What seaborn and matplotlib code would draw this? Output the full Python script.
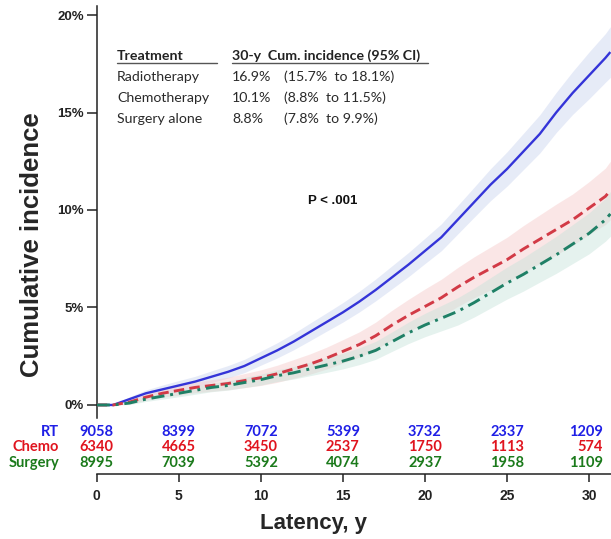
import numpy as np
import pandas as pd
import matplotlib
matplotlib.use("Agg")
import matplotlib.pyplot as plt
import seaborn as sns

# ---------------- data ----------------
years = [0, 1, 2, 3, 4, 5, 6, 7, 8, 9, 10, 11, 12, 13, 14, 15, 16, 17, 18, 19,
         20, 21, 22, 23, 24, 25, 26, 27, 28, 29, 30, 31, 31.3]
rt_inc = [0, 0.0, 0.3, 0.6, 0.8, 1.0, 1.2, 1.45, 1.7, 2.0, 2.4, 2.8, 3.25, 3.75, 4.25,
          4.75, 5.3, 5.9, 6.55, 7.2, 7.9, 8.6, 9.5, 10.4, 11.3, 12.1, 13.0, 13.9, 15.0,
          16.0, 16.9, 17.8, 18.1]
chemo_inc = [0, 0.0, 0.15, 0.4, 0.6, 0.75, 0.9, 1.0, 1.1, 1.25, 1.4, 1.6, 1.85, 2.1,
             2.4, 2.75, 3.1, 3.55, 4.1, 4.6, 5.05, 5.5, 6.05, 6.55, 7.0, 7.45, 8.0, 8.5,
             9.0, 9.5, 10.1, 10.7, 11.0]
surg_inc = [0, 0.0, 0.1, 0.3, 0.45, 0.6, 0.75, 0.9, 1.0, 1.15, 1.3, 1.5, 1.65, 1.85,
            2.05, 2.25, 2.5, 2.8, 3.25, 3.7, 4.1, 4.45, 4.8, 5.25, 5.75, 6.25, 6.7, 7.2,
            7.7, 8.25, 8.8, 9.5, 9.8]
# half-widths of the 95% CI bands
rt_ci = [0, 0, 0.12, 0.17, 0.22, 0.25, 0.27, 0.3, 0.32, 0.34, 0.36, 0.39, 0.42, 0.45,
         0.47, 0.5, 0.53, 0.56, 0.59, 0.62, 0.65, 0.69, 0.73, 0.77, 0.82, 0.88, 0.93,
         0.98, 1.03, 1.1, 1.2, 1.25, 1.3]
chemo_ci = [0, 0, 0.1, 0.16, 0.2, 0.25, 0.27, 0.3, 0.32, 0.36, 0.4, 0.44, 0.48, 0.52,
            0.56, 0.6, 0.65, 0.7, 0.76, 0.82, 0.9, 0.95, 1.0, 1.05, 1.1, 1.15, 1.2,
            1.25, 1.3, 1.32, 1.35, 1.45, 1.5]
surg_ci = [0, 0, 0.08, 0.12, 0.15, 0.18, 0.2, 0.22, 0.24, 0.26, 0.28, 0.3, 0.32, 0.35,
           0.38, 0.4, 0.43, 0.46, 0.5, 0.55, 0.6, 0.65, 0.7, 0.74, 0.78, 0.82, 0.86,
           0.9, 0.95, 1.0, 1.05, 1.1, 1.15]

groups = ["RT", "Chemo", "Surgery"]
risk_times = [0, 5, 10, 15, 20, 25, 30]
risk_rt = [9058, 8399, 7072, 5399, 3732, 2337, 1209]
risk_chemo = [6340, 4665, 3450, 2537, 1750, 1113, 574]
risk_surg = [8995, 7039, 5392, 4074, 2937, 1958, 1109]

table_treat = ["Radiotherapy", "Chemotherapy", "Surgery alone"]
table_est = ["16.9%", "10.1%", "8.8%"]
table_ci = ["(15.7%  to 18.1%)", "(8.8%  to 11.5%)", "(7.8%  to 9.9%)"]

yticks = [0, 5, 10, 15, 20]
xticks = [0, 5, 10, 15, 20, 25, 30]

# ---------------- style ----------------
sns.set_style("ticks")
plt.rcParams['font.family'] = ['Liberation Sans', 'DejaVu Sans']

line_col = {"RT": "#3434d8", "Chemo": "#d23a46", "Surgery": "#1f8066"}
band_col = {"RT": "#c9d3ef", "Chemo": "#f6c9c9", "Surgery": "#c6e3da"}
text_col = {"RT": "#1f1fe6", "Chemo": "#e0141e", "Surgery": "#1b7a1b"}

W, H = 611, 539
fig = plt.figure(figsize=(W / 100, H / 100), dpi=100)
x0_px, x30_px = 96.7, 589.0
ax = fig.add_axes([x0_px / W, 65 / H, (W - x0_px) / W, 474 / H])

# long data frame
incs = {"RT": rt_inc, "Chemo": chemo_inc, "Surgery": surg_inc}
cis = {"RT": rt_ci, "Chemo": chemo_ci, "Surgery": surg_ci}
frames = []
for g in groups:
    frames.append(pd.DataFrame({"year": years, "inc": incs[g], "group": g}))
df = pd.concat(frames, ignore_index=True)

# CI bands
for g in groups:
    inc = np.array(incs[g])
    ci = np.array(cis[g])
    ax.fill_between(years, inc - ci, inc + ci, color=band_col[g], alpha=0.45,
                    lw=0, zorder=1)

sns.lineplot(data=df, x="year", y="inc", hue="group", style="group",
             palette=line_col,
             dashes={"RT": "", "Chemo": (3.6, 1.8), "Surgery": (4.5, 2, 1, 2)},
             estimator=None, sort=True, legend=False, ax=ax, zorder=3,
             linewidth=2.1)
for ln in ax.lines:
    ln.set_solid_capstyle("butt")
    ln.set_dash_capstyle("butt")
    ln.set_solid_joinstyle("round")
ax.lines[0].set_linewidth(1.7)

# axes limits and spines
ax.set_xlim(0, 31.34)
ax.set_ylim(-3.54, 20.77)
ax.spines["top"].set_visible(False)
ax.spines["right"].set_visible(False)
ax.spines["left"].set_bounds(-0.65, 20.45)
ax.spines["bottom"].set_bounds(0, 31.34)
for s in ("left", "bottom"):
    ax.spines[s].set_linewidth(1.1)
    ax.spines[s].set_color("#222222")

ax.set_yticks(yticks)
ax.set_yticklabels([f"{v}%" for v in yticks])
ax.set_xticks(xticks)
ax.set_xticklabels([str(v) for v in xticks])
ax.tick_params(axis="y", direction="out", length=7, width=1.1, pad=2,
               labelsize=9.5, color="#222222")
ax.tick_params(axis="x", direction="out", length=6, width=1.1, pad=4.5,
               labelsize=10, color="#222222")
for lab in ax.get_yticklabels() + ax.get_xticklabels():
    lab.set_fontweight("bold")
    lab.set_color("#222222")

ax.set_xlabel("Latency, y", fontsize=16, fontweight="bold")
ax.xaxis.set_label_coords((314 - x0_px) / (W - x0_px), -(523 - 474) / 474)
ax.xaxis.label.set_va("center")
ax.set_ylabel("Cumulative incidence", fontsize=18.5, fontweight="bold")
ax.yaxis.set_label_coords(-(x0_px - 32) / (W - x0_px), (474 - 245) / 474)
ax.yaxis.label.set_va("center")

# number-at-risk table
risk = {"RT": risk_rt, "Chemo": risk_chemo, "Surgery": risk_surg}
row_y = {"RT": -1.385, "Chemo": -2.154, "Surgery": -2.974}
lab_x = (59 - x0_px) / ((x30_px - x0_px) / 30)
last_x = (603 - x0_px) / ((x30_px - x0_px) / 30)
for g in groups:
    ax.text(lab_x, row_y[g], g, ha="right", va="center", color=text_col[g],
            fontsize=10.5, fontweight="bold", family=["Lato", "DejaVu Sans"],
            clip_on=False)
    for t, n in zip(risk_times, risk[g]):
        if t == risk_times[-1]:
            ax.text(last_x, row_y[g], str(n), ha="right", va="center",
                    color=text_col[g], fontsize=10.5, fontweight="bold",
                    family=["Lato", "DejaVu Sans"])
        else:
            ax.text(t, row_y[g], str(n), ha="center", va="center",
                    color=text_col[g], fontsize=10.5, fontweight="bold",
                    family=["Lato", "DejaVu Sans"])

# summary table
tfam = ["Lato", "DejaVu Sans"]
ax.text(1.24, 17.9, "Treatment", ha="left", va="center", fontsize=10.2,
        fontweight="bold", family=tfam, color="#222222")
ax.text(8.24, 17.9, "30-y  Cum. incidence (95% CI)", ha="left", va="center",
        fontsize=10.2, fontweight="bold", family=tfam, color="#222222")
ax.plot([1.24, 7.33], [17.52, 17.52], color="#555555", lw=1.0)
ax.plot([8.24, 20.18], [17.52, 17.52], color="#555555", lw=1.0)
for i, (a, b, c) in enumerate(zip(table_treat, table_est, table_ci)):
    yy = [16.82, 15.74, 14.67][i]
    ax.text(1.24, yy, a, ha="left", va="center", fontsize=10.2, family=tfam,
            color="#2a2a2a")
    ax.text(8.24, yy, b, ha="left", va="center", fontsize=10.2, family=tfam,
            color="#2a2a2a")
    ax.text(11.42, yy, c, ha="left", va="center", fontsize=10.2, family=tfam,
            color="#2a2a2a")

ax.text(14.4, 10.46, "P < .001", ha="center", va="center", fontsize=9.5,
        fontweight="bold", family=["Liberation Sans", "DejaVu Sans"],
        color="#111111")

fig.savefig("out.png", dpi=100)
